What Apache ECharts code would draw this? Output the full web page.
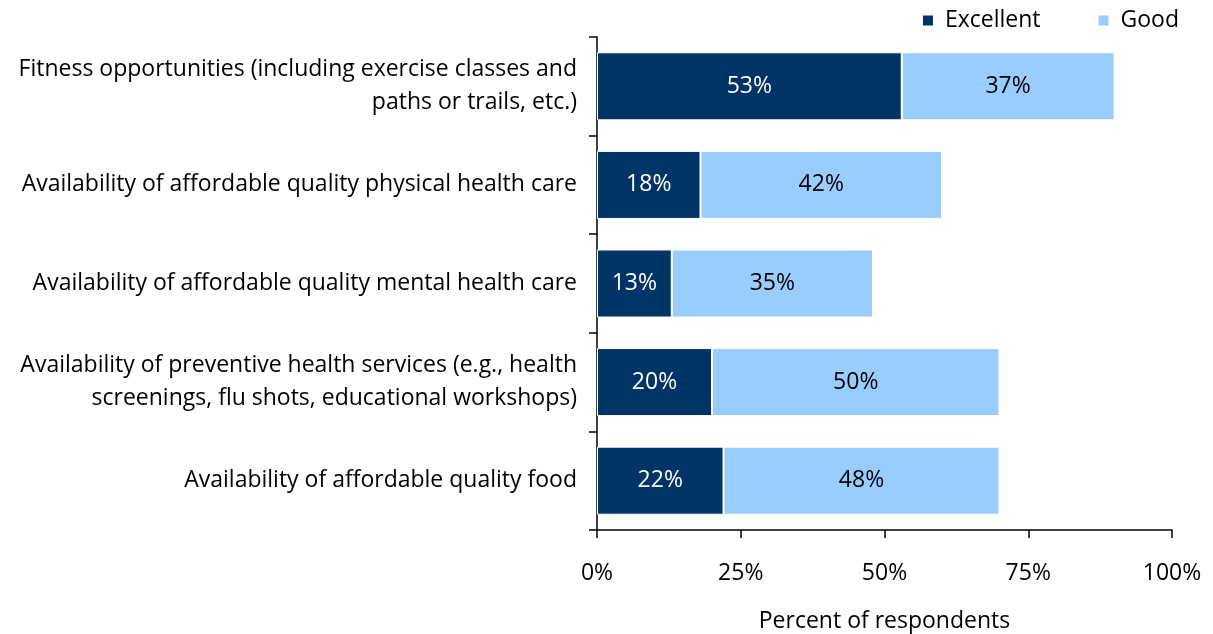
<!DOCTYPE html>
<html>
<head>
<meta charset="utf-8">
<script src="https://cdn.jsdelivr.net/npm/echarts@6/dist/echarts.min.js"></script>
<style>
  html, body { margin: 0; padding: 0; background: #fff; }
  #chart { width: 1213px; height: 634px; }
</style>
</head>
<body>
<div id="chart"></div>
<script>
var categories = [
  'Fitness opportunities (including exercise classes and\npaths or trails, etc.)',
  'Availability of affordable quality physical health care',
  'Availability of affordable quality mental health care',
  'Availability of preventive health services (e.g., health\nscreenings, flu shots, educational workshops)',
  'Availability of affordable quality food'
];
var excellent = [53, 18, 13, 20, 22];
var good = [37, 42, 35, 50, 48];
var xTicks = [0, 25, 50, 75, 100];

var font = '"Open Sans", sans-serif';
var fs = 23;
var myChart = echarts.init(document.getElementById('chart'));
var option = {
  animation: false,
  backgroundColor: '#fff',
  textStyle: { fontFamily: font },
  legend: {
    top: 4,
    right: 29,
    itemWidth: 12,
    itemHeight: 12,
    itemGap: 56,
    icon: 'rect',
    textStyle: { fontSize: fs, color: '#000', fontFamily: font, padding: [0, 0, 0, 6] },
    data: ['Excellent', 'Good']
  },
  grid: { left: 597, right: 41, top: 37, bottom: 104, containLabel: false, outerBoundsMode: 'none' },
  xAxis: {
    type: 'value',
    min: 0,
    max: 100,
    interval: 25,
    name: 'Percent of respondents',
    nameLocation: 'middle',
    nameGap: 80,
    nameTextStyle: { fontSize: fs, color: '#000', fontFamily: font },
    axisLine: { show: true, lineStyle: { color: '#000', width: 1.5 } },
    axisTick: { show: true, length: 8, lineStyle: { color: '#000', width: 1.5 } },
    splitLine: { show: false },
    axisLabel: {
      fontSize: fs, color: '#000', margin: 32, fontFamily: font,
      formatter: function (v) { return xTicks.indexOf(v) >= 0 ? v + '%' : ''; }
    }
  },
  yAxis: {
    type: 'category',
    inverse: true,
    data: categories,
    axisLine: { show: true, lineStyle: { color: '#000', width: 1.5 } },
    axisTick: { show: true, length: 8, lineStyle: { color: '#000', width: 1.5 } },
    axisLabel: { fontSize: fs, color: '#000', margin: 20, lineHeight: 33, align: 'right', fontFamily: font }
  },
  series: [
    {
      name: 'Excellent',
      type: 'bar',
      stack: 'total',
      barCategoryGap: '31%',
      data: excellent,
      itemStyle: { color: '#003366', borderColor: '#fff', borderWidth: 1 },
      label: { show: true, position: 'inside', color: '#fff', fontSize: fs, fontFamily: font, formatter: '{c}%' }
    },
    {
      name: 'Good',
      type: 'bar',
      stack: 'total',
      barCategoryGap: '31%',
      data: good,
      itemStyle: { color: '#99CCFF', borderColor: '#fff', borderWidth: 1 },
      label: { show: true, position: 'inside', color: '#000', fontSize: fs, fontFamily: font, formatter: '{c}%' }
    }
  ]
};
myChart.setOption(option);
</script>
</body>
</html>
